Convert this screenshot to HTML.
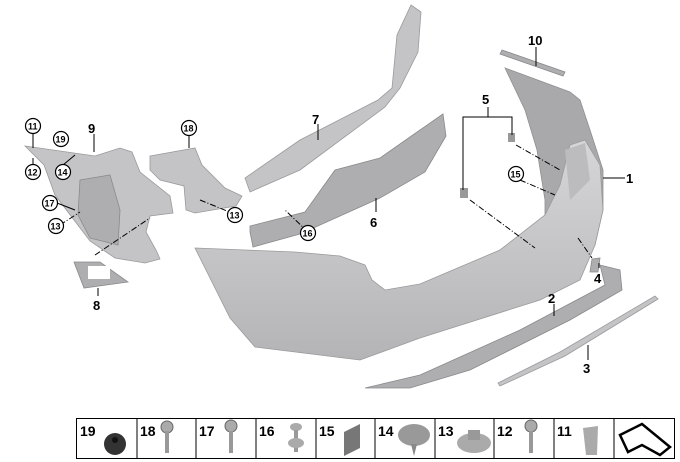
<!DOCTYPE html>
<html><head><meta charset="utf-8"><style>
body{margin:0;background:#fff;width:680px;height:462px;overflow:hidden}
svg{display:block}
text{font-family:"Liberation Sans",sans-serif;font-weight:bold;fill:#000}
.c{fill:#fff;stroke:#000;stroke-width:1.2}
.l{stroke:#000;stroke-width:1;fill:none}
.d{stroke:#000;stroke-width:1;fill:none;stroke-dasharray:6 2 1 2}
.p{fill:#c4c4c6;stroke:#9a9a9c;stroke-width:0.8}
.q{fill:#aeaeb0;stroke:#8a8a8c;stroke-width:0.8}
</style></head><body>
<svg width="680" height="462" viewBox="0 0 680 462">
<defs>
<linearGradient id="g1" x1="0" y1="0" x2="0" y2="1"><stop offset="0" stop-color="#d6d6d8"/><stop offset="1" stop-color="#b4b4b6"/></linearGradient>
</defs>
<!-- part 7 -->
<path class="p" d="M245,178 L250,192 L300,170 L385,107 L400,88 L418,52 L421,12 L411,5 L397,35 L392,88 L378,100 L300,140 Z"/>
<!-- part 6 -->
<path class="q" d="M250,232 L253,247 L300,234 L380,198 L425,172 L446,136 L443,114 L420,130 L380,158 L335,170 L305,212 L250,226 Z"/>
<!-- part 18 bracket -->
<path class="p" d="M150,156 L195,148 L202,165 L225,188 L242,196 L236,206 L195,213 L186,210 L184,186 L160,180 L150,170 Z"/>
<!-- part 9 -->
<path class="p" d="M25,146 L95,156 L120,148 L132,152 L140,172 L170,196 L173,213 L150,216 L146,232 L156,250 L160,259 L145,263 L115,258 L90,241 L74,220 L55,195 L44,165 Z"/>
<path class="q" d="M80,180 L110,175 L120,210 L118,245 L90,238 L78,215 Z"/>
<!-- part 8 -->
<path class="q" d="M74,262 L100,262 L128,282 L84,288 Z"/>
<rect x="88" y="266" width="22" height="13" fill="#fff"/>
<!-- bumper wing interior -->
<path fill="#a9a9ab" stroke="#909092" stroke-width="0.8" d="M505,68 L570,92 L580,100 L590,130 L603,170 L603,210 L595,245 L580,275 L545,235 L545,200 L537,150 L525,110 Z"/>
<!-- bumper main -->
<path fill="url(#g1)" stroke="#9a9a9c" stroke-width="0.8" d="M195,248 L295,252 L340,256 L365,265 L372,280 L385,290 L420,284 L500,250 L545,215 L560,185 L570,145 L585,140 L600,165 L603,210 L595,245 L580,280 L540,300 L420,338 L360,360 L255,347 L230,318 Z"/>
<path fill="#bcbcbe" d="M565,150 L585,143 L590,180 L570,200 Z"/>
<!-- part 10 -->
<path class="q" d="M502,50 L565,72 L563,76 L500,54 Z"/>
<!-- part 4 -->
<path class="q" d="M592,259 L600,258 L598,272 L590,272 Z"/>
<!-- part 2 -->
<path class="q" d="M365,388 L420,375 L520,330 L605,285 L600,265 L620,270 L622,290 L570,320 L470,370 L410,388 Z"/>
<!-- part 3 -->
<path class="p" d="M498,383 L560,352 L655,296 L658,299 L565,356 L500,386 Z"/>
<!-- part 5 clips -->
<rect x="460" y="188" width="8" height="10" fill="#999"/>
<rect x="508" y="133" width="7" height="9" fill="#999"/>
<!-- leaders -->
<path class="l" d="M463,190 V117 H512 V135 M488,117 V107"/>
<path class="d" d="M470,200 L535,248 M516,145 L560,170 M520,180 L555,195 M578,238 L592,258"/>
<path class="d" d="M200,200 L232,213 M308,232 L285,210 M95,255 L150,218 M60,225 L80,212"/>
<path class="l" d="M318,124 V140 M376,212 V198 M536,47 V66 M603,178 H625 M599,268 V263 M554,304 V316 M588,360 V345 M98,296 V288 M94,134 V152 M189,136 V148 M33,134 V148 M33,164 V158 M63,165 L75,155 M57,203 L75,210"/>
<!-- labels -->
<text x="312" y="124" font-size="13">7</text>
<text x="370" y="227" font-size="13">6</text>
<text x="482" y="104" font-size="13">5</text>
<text x="528" y="45" font-size="13">10</text>
<text x="626" y="183" font-size="13">1</text>
<text x="594" y="283" font-size="13">4</text>
<text x="548" y="303" font-size="13">2</text>
<text x="583" y="373" font-size="13">3</text>
<text x="93" y="310" font-size="13">8</text>
<text x="88" y="133" font-size="13">9</text>
<g font-size="9">
<circle class="c" cx="33" cy="126" r="7.5"/><text x="28" y="129.5">11</text>
<circle class="c" cx="61" cy="139" r="7.5"/><text x="55.5" y="142.5">19</text>
<circle class="c" cx="33" cy="172" r="7.5"/><text x="27.5" y="175.5">12</text>
<circle class="c" cx="63" cy="172" r="7.5"/><text x="57.5" y="175.5">14</text>
<circle class="c" cx="50" cy="203" r="7.5"/><text x="44.5" y="206.5">17</text>
<circle class="c" cx="56" cy="226" r="7.5"/><text x="50.5" y="229.5">13</text>
<circle class="c" cx="189" cy="128" r="7.5"/><text x="183.5" y="131.5">18</text>
<circle class="c" cx="235" cy="215" r="7.5"/><text x="229.5" y="218.5">13</text>
<circle class="c" cx="308" cy="233" r="7.5"/><text x="302.5" y="236.5">16</text>
<circle class="c" cx="516" cy="174" r="7.5"/><text x="510.5" y="177.5">15</text>
</g>
<!-- bottom strip -->
<g stroke="#000" stroke-width="1" fill="none">
<rect x="76.5" y="418.5" width="598" height="40"/>
<path d="M137,418 V459 M196,418 V459 M256,418 V459 M316,418 V459 M375,418 V459 M435,418 V459 M494,418 V459 M554,418 V459 M614,418 V459"/>
</g>
<g font-size="14">
<text x="80" y="436">19</text><text x="140" y="436">18</text><text x="199" y="436">17</text>
<text x="259" y="436">16</text><text x="319" y="436">15</text><text x="378" y="436">14</text>
<text x="438" y="436">13</text><text x="497" y="436">12</text><text x="557" y="436">11</text>
</g>
<circle cx="115" cy="444" r="11" fill="#333"/><circle cx="115" cy="440" r="3" fill="#111"/>
<circle cx="167" cy="427" r="6" fill="#aaa" stroke="#666"/><rect x="165" y="431" width="4" height="22" fill="#999"/>
<circle cx="231" cy="426" r="6" fill="#aaa" stroke="#666"/><rect x="229" y="431" width="4" height="22" fill="#999"/>
<ellipse cx="296" cy="427" rx="6" ry="4" fill="#aaa"/><rect x="294" y="430" width="4" height="22" fill="#999"/><ellipse cx="296" cy="443" rx="8" ry="5" fill="#aaa"/>
<path d="M344,432 L360,424 L360,448 L344,456 Z" fill="#777"/>
<ellipse cx="414" cy="435" rx="16" ry="11" fill="#999"/><path d="M411,444 L417,444 L414,456 Z" fill="#888"/>
<ellipse cx="474" cy="443" rx="17" ry="10" fill="#aaa"/><rect x="468" y="430" width="12" height="10" fill="#999"/>
<circle cx="531" cy="426" r="6" fill="#aaa" stroke="#666"/><rect x="529" y="431" width="4" height="22" fill="#999"/>
<path d="M583,428 L598,426 L597,455 L586,455 Z" fill="#aaa"/>
<path d="M620,435 L642,424 L670,447 L660,455 L642,445 L628,452 Z" fill="#fff" stroke="#000" stroke-width="2.5"/>
</svg>
</body></html>
